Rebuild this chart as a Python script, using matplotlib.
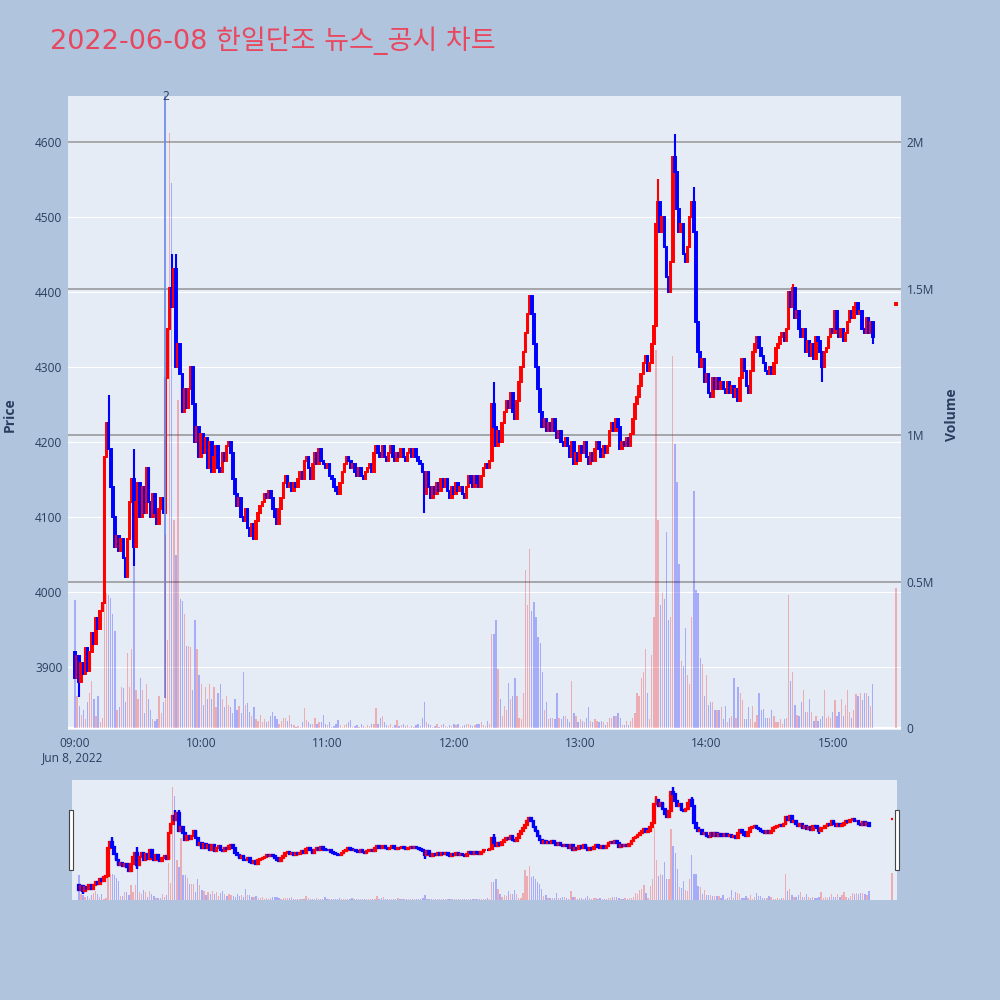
import matplotlib
matplotlib.use("Agg")
import matplotlib.pyplot as plt
import numpy as np
from matplotlib.patches import Rectangle
from matplotlib.transforms import blended_transform_factory

plt.rcParams["font.family"] = ["Open Sans", "Noto Sans CJK KR", "DejaVu Sans"]

TITLE = "2022-06-08 한일단조 뉴스_공시 차트"
TIME_LABELS = ["09:00", "10:00", "11:00", "12:00", "13:00", "14:00", "15:00"]
DATE_LABEL = "Jun 8, 2022"

# 1-minute closes from 09:00 (minute 0) to 15:19 (minute 379); open = previous close
FIRST_OPEN = 3920
CLOSES = [
    3885, 3915, 3880, 3905, 3890, 3925, 3895, 3920, 3945, 3930,
    3965, 3950, 3975, 3985, 4180, 4225, 4190, 4140, 4100, 4060,
    4075, 4055, 4070, 4045, 4020, 4070, 4120, 4150, 4060, 4120,
    4145, 4100, 4140, 4105, 4165, 4120, 4100, 4130, 4105, 4090,
    4110, 4125, 4105, 4285, 4350, 4405, 4380, 4430, 4300, 4330,
    4290, 4240, 4270, 4245, 4270, 4300, 4250, 4200, 4220, 4180,
    4210, 4185, 4205, 4165, 4200, 4160, 4180, 4195, 4165, 4160,
    4185, 4175, 4195, 4200, 4185, 4150, 4130, 4115, 4125, 4100,
    4095, 4110, 4085, 4075, 4090, 4070, 4095, 4105, 4115, 4120,
    4130, 4125, 4135, 4125, 4110, 4100, 4090, 4110, 4125, 4145,
    4155, 4140, 4145, 4135, 4145, 4140, 4150, 4160, 4150, 4175,
    4180, 4165, 4150, 4170, 4185, 4170, 4190, 4175, 4170, 4165,
    4170, 4155, 4150, 4140, 4135, 4130, 4145, 4160, 4170, 4180,
    4175, 4165, 4170, 4160, 4155, 4165, 4155, 4150, 4160, 4165,
    4170, 4160, 4185, 4195, 4185, 4180, 4195, 4180, 4175, 4185,
    4195, 4180, 4175, 4185, 4180, 4190, 4180, 4175, 4185, 4190,
    4180, 4190, 4180, 4175, 4170, 4160, 4130, 4160, 4140, 4125,
    4140, 4130, 4145, 4135, 4150, 4140, 4150, 4135, 4125, 4140,
    4130, 4145, 4135, 4140, 4130, 4125, 4140, 4155, 4145, 4140,
    4155, 4145, 4140, 4155, 4165, 4170, 4165, 4175, 4250, 4220,
    4195, 4215, 4200, 4225, 4240, 4255, 4245, 4265, 4240, 4230,
    4255, 4280, 4300, 4320, 4345, 4370, 4395, 4370, 4330, 4300,
    4270, 4240, 4220, 4230, 4215, 4225, 4215, 4230, 4215, 4205,
    4215, 4200, 4195, 4205, 4195, 4180, 4200, 4170, 4185, 4175,
    4195, 4185, 4200, 4180, 4170, 4185, 4175, 4190, 4200, 4190,
    4180, 4195, 4185, 4195, 4215, 4225, 4215, 4230, 4220, 4190,
    4200, 4195, 4205, 4195, 4210, 4230, 4250, 4260, 4275, 4290,
    4305, 4315, 4295, 4305, 4330, 4355, 4490, 4520, 4480, 4500,
    4460, 4420, 4400, 4440, 4580, 4560, 4510, 4480, 4490, 4450,
    4440, 4460, 4500, 4520, 4480, 4360, 4320, 4300, 4310, 4280,
    4290, 4265, 4260, 4285, 4270, 4285, 4270, 4280, 4270, 4265,
    4280, 4265, 4275, 4260, 4270, 4255, 4285, 4310, 4295, 4275,
    4265, 4295, 4320, 4330, 4340, 4325, 4315, 4305, 4295, 4290,
    4300, 4290, 4305, 4325, 4330, 4340, 4345, 4335, 4350, 4400,
    4380, 4405, 4365, 4375, 4350, 4340, 4350, 4320, 4335, 4315,
    4330, 4310, 4340, 4335, 4320, 4300, 4320, 4325, 4340, 4350,
    4345, 4375, 4350, 4340, 4350, 4335, 4345, 4360, 4375, 4365,
    4380, 4385, 4370, 4375, 4350, 4345, 4365, 4345, 4360, 4340,
]

# traded volume per minute, thousands of shares
VOLUMES_K = [
    437, 110, 75, 45, 60, 30, 90, 120, 160, 100,
    40, 110, 20, 35, 620, 460, 455, 445, 390, 330,
    60, 70, 140, 135, 90, 255, 140, 270, 950, 130,
    100, 170, 130, 50, 150, 100, 60, 30, 25, 30,
    110, 50, 90, 660, 300, 2030, 1860, 710, 590, 1120,
    440, 435, 390, 280, 280, 275, 130, 370, 270, 180,
    150, 80, 140, 100, 150, 100, 140, 70, 120, 150,
    100, 70, 110, 80, 70, 50, 100, 60, 75, 50,
    190, 80, 85, 55, 40, 70, 30, 25, 45, 20,
    30, 20, 25, 40, 55, 40, 30, 15, 25, 35,
    35, 25, 45, 15, 10, 5, 8, 5, 20, 67,
    27, 20, 15, 15, 35, 15, 20, 20, 45, 15,
    10, 20, 5, 8, 12, 27, 10, 5, 10, 15,
    20, 27, 5, 8, 10, 5, 12, 8, 5, 10,
    8, 15, 12, 67, 15, 35, 40, 20, 10, 8,
    12, 5, 10, 27, 8, 10, 15, 8, 10, 5,
    8, 5, 10, 12, 8, 35, 90, 20, 15, 10,
    5, 8, 12, 5, 10, 15, 8, 5, 10, 8,
    12, 10, 15, 5, 8, 10, 12, 15, 10, 8,
    10, 15, 12, 20, 10, 8, 25, 12, 320, 320,
    370, 200, 100, 40, 75, 60, 155, 100, 110, 170,
    110, 35, 30, 120, 540, 420, 610, 400, 430, 380,
    310, 290, 190, 60, 90, 30, 35, 35, 30, 120,
    35, 30, 40, 40, 30, 20, 160, 50, 40, 20,
    30, 25, 20, 35, 70, 25, 20, 30, 25, 20,
    25, 20, 10, 20, 35, 35, 40, 40, 50, 35,
    10, 10, 25, 10, 25, 35, 50, 120, 110, 170,
    190, 270, 120, 30, 250, 380, 1290, 710, 420, 460,
    440, 670, 370, 380, 1270, 970, 840, 560, 230, 210,
    340, 180, 150, 380, 810, 470, 460, 240, 220, 110,
    180, 80, 90, 90, 60, 60, 60, 70, 30, 75,
    20, 35, 40, 170, 35, 140, 120, 95, 30, 30,
    70, 30, 75, 20, 45, 120, 60, 65, 35, 35,
    35, 60, 40, 20, 20, 30, 15, 30, 35, 455,
    160, 190, 80, 45, 40, 90, 130, 55, 55, 100,
    55, 25, 40, 25, 30, 40, 130, 35, 40, 35,
    55, 95, 40, 55, 100, 40, 80, 130, 55, 35,
    60, 115, 110, 120, 95, 120, 120, 110, 75, 150,
]

# closing auction at 15:30 (minute 390)
AUCTION_MINUTE = 390
AUCTION_OPEN = 4383
AUCTION_CLOSE = 4385
AUCTION_VOLUME_K = 478

# minutes whose wicks reach beyond the body
WICK_MINUTES = [2, 16, 28, 46, 48, 166, 199, 277, 285, 294, 341, 355, 379]
WICK_HIGHS = [3915, 4263, 4190, 4450, 4450, 4160, 4280, 4550, 4610, 4540, 4410, 4320, 4360]
WICK_LOWS = [3860, 4190, 4035, 4380, 4300, 4105, 4220, 4490, 4560, 4480, 4380, 4280, 4330]

NEWS_MINUTE = 43
NEWS_LABEL = "2"

UP = "#FF0000"
DOWN = "#0000FF"
BG = "#B0C4DE"
PLOT_BG = "#E5ECF6"
TEXT = "#2a3f5f"

PRICE_LIM = (3816, 4661)
VOL_LIM = (-0.0068e6, 2.157e6)
X_LIM = (-3.3, 392.4)


def build_candles():
    minutes = list(range(len(CLOSES))) + [AUCTION_MINUTE]
    opens = [FIRST_OPEN] + CLOSES[:-1] + [AUCTION_OPEN]
    closes = CLOSES + [AUCTION_CLOSE]
    highs = [max(o, c) for o, c in zip(opens, closes)]
    lows = [min(o, c) for o, c in zip(opens, closes)]
    for m, hi, lo in zip(WICK_MINUTES, WICK_HIGHS, WICK_LOWS):
        highs[m] = hi
        lows[m] = lo
    volumes = [v * 1000 for v in VOLUMES_K] + [AUCTION_VOLUME_K * 1000]
    colors = [UP if c > o else DOWN for o, c in zip(opens, closes)]
    return (np.array(minutes), np.array(opens), np.array(closes), np.array(highs),
            np.array(lows), np.array(volumes), colors)


def draw_panel(ax, ax_v, data, body_w, body_lw, wick_lw):
    x, o, c, hi, lo, vol, colors = data
    ax.vlines(x, lo, hi, colors=colors, linewidth=wick_lw, zorder=3)
    bottom = np.minimum(o, c)
    height = np.abs(c - o)
    ax.bar(x, height, bottom=bottom, width=body_w, color=colors, edgecolor=colors,
           linewidth=body_lw, zorder=3)
    ax_v.bar(x, vol, width=0.62, color=colors, alpha=0.27, linewidth=0, zorder=2)
    ax.set_xlim(*X_LIM)
    ax.set_ylim(*PRICE_LIM)
    ax_v.set_ylim(*VOL_LIM)
    for a in (ax, ax_v):
        for s in a.spines.values():
            s.set_visible(False)


fig = plt.figure(figsize=(10, 10), dpi=100, facecolor=BG)
data = build_candles()

# main chart
ax = fig.add_axes([0.068, 0.27, 0.833, 0.634])
ax.set_facecolor(PLOT_BG)
ax_v = ax.twinx()
ax_v.patch.set_visible(False)

price_ticks = [3900, 4000, 4100, 4200, 4300, 4400, 4500, 4600]
for p in price_ticks:
    ax.axhline(p, color="white", linewidth=0.8, zorder=0)
vol_ticks = [0, 0.5e6, 1e6, 1.5e6, 2e6]
trans = blended_transform_factory(ax.transAxes, ax_v.transData)
for v in vol_ticks[1:]:
    ax.plot([0, 1], [v, v], transform=trans, color="#939393", linewidth=1.1, zorder=1)
ax.plot([0, 1], [0, 0], transform=trans, color="white", linewidth=1.6, zorder=1)

draw_panel(ax, ax_v, data, body_w=0.75, body_lw=1.4, wick_lw=1.5)

ax.set_yticks(price_ticks)
ax.set_yticklabels([str(p) for p in price_ticks])
ax_v.set_yticks(vol_ticks)
ax_v.set_yticklabels(["0", "0.5M", "1M", "1.5M", "2M"])
ax.set_xticks(range(0, 361, 60))
ax.set_xticklabels(TIME_LABELS)
for a in (ax, ax_v):
    a.tick_params(length=0, labelsize=8.6, colors=TEXT, pad=4)
ax.tick_params(axis="x", pad=5)

# news marker
ax.vlines(NEWS_MINUTE, 3858, PRICE_LIM[1], color="#6E8EEA", linewidth=1.3, zorder=4)
ax.text(NEWS_MINUTE, PRICE_LIM[1], NEWS_LABEL, ha="center", va="center",
        fontsize=8.6, color=TEXT, zorder=5, clip_on=False)

fig.text(0.073, 1 - 0.758, DATE_LABEL, ha="center", va="center", fontsize=8.6, color=TEXT)
fig.text(0.010, 1 - 0.415, "Price", rotation=90, ha="center", va="center",
         fontsize=10, fontweight="bold", color=TEXT)
fig.text(0.952, 1 - 0.415, "Volume", rotation=90, ha="center", va="center",
         fontsize=10, fontweight="bold", color=TEXT)
fig.text(0.050, 1 - 0.041, TITLE, ha="left", va="center", fontsize=19.5, color="#E8485F",
         family=["DejaVu Sans", "Noto Sans CJK KR"])

# range slider
axs = fig.add_axes([0.072, 0.100, 0.825, 0.120])
axs.set_facecolor(PLOT_BG)
axs_v = axs.twinx()
axs_v.patch.set_visible(False)
draw_panel(axs, axs_v, data, body_w=0.8, body_lw=1.6, wick_lw=1.7)
for a in (axs, axs_v):
    a.set_xticks([])
    a.set_yticks([])

for left in (0.069, 0.895):
    fig.patches.append(Rectangle((left, 1 - 0.870), 0.004, 0.060, transform=fig.transFigure,
                                 facecolor="white", edgecolor="#444444", linewidth=0.8))

fig.savefig("out.png", dpi=100, facecolor=BG)
